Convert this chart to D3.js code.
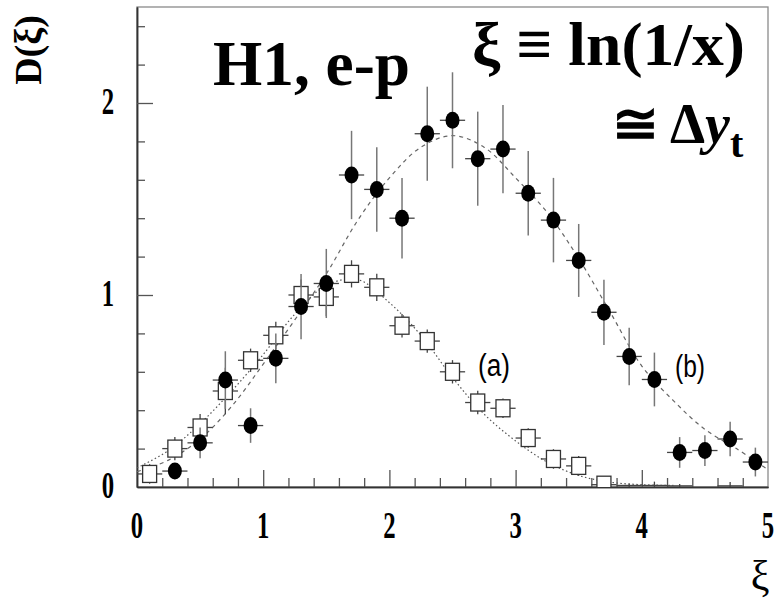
<!DOCTYPE html>
<html>
<head>
<meta charset="utf-8">
<script src="https://cdn.jsdelivr.net/npm/d3@7"></script>
<style>
  body { margin: 0; background: #fff; }
  svg { display: block; }
  .serif { font-family: "Liberation Serif", "Times New Roman", "DejaVu Serif", serif; }
  .sans { font-family: "Liberation Sans", Arial, sans-serif; }
</style>
</head>
<body>
<script>
// bin centres (xi) and values
var xiA = [0.1, 0.3, 0.5, 0.7, 0.9, 1.1, 1.3, 1.5, 1.7, 1.9, 2.1, 2.3, 2.5, 2.7, 2.9, 3.1, 3.3, 3.5, 3.7, 3.9, 4.1, 4.3, 4.7];
var valA = [0.068, 0.20, 0.31, 0.50, 0.66, 0.79, 1.0, 0.99, 1.11, 1.04, 0.84, 0.76, 0.60, 0.44, 0.41, 0.255, 0.146, 0.11, 0.012, 0.008, 0.008, 0.006, 0.006];
var errA = [0.03, 0.04, 0.05, 0.10, 0.04, 0.05, 0.06, 0.08, 0.05, 0.05, 0.04, 0.04, 0.04, 0.04, 0.03, 0.03, 0.03, 0.03, 0.02, 0.01, 0.02, 0.01, 0.02];

var xiB = [0.3, 0.5, 0.7, 0.9, 1.1, 1.3, 1.5, 1.7, 1.9, 2.1, 2.3, 2.5, 2.7, 2.9, 3.1, 3.3, 3.5, 3.7, 3.9, 4.1, 4.3, 4.5, 4.7, 4.9];
var valB = [0.083, 0.23, 0.557, 0.32, 0.67, 0.94, 1.06, 1.625, 1.55, 1.40, 1.84, 1.91, 1.71, 1.76, 1.53, 1.39, 1.18, 0.91, 0.68, 0.56, 0.18, 0.19, 0.25, 0.13];
var errB = [0.03, 0.08, 0.15, 0.09, 0.13, 0.17, 0.18, 0.23, 0.22, 0.21, 0.245, 0.25, 0.245, 0.23, 0.22, 0.22, 0.19, 0.17, 0.15, 0.14, 0.08, 0.08, 0.09, 0.075];

// fitted curves, read point by point
var curveXiA = [0, 0.25, 0.5, 0.75, 1.0, 1.25, 1.5, 1.75, 2.0, 2.25, 2.5, 2.75, 3.0, 3.25, 3.5, 3.75, 4.0, 4.25];
var curveA = [0.10, 0.19, 0.33, 0.50, 0.69, 0.90, 1.05, 1.08, 0.96, 0.79, 0.57, 0.38, 0.24, 0.13, 0.06, 0.025, 0.012, 0.008];
var curveXiB = [0, 0.25, 0.5, 0.75, 1.0, 1.25, 1.5, 1.75, 2.0, 2.25, 2.5, 2.75, 3.0, 3.25, 3.5, 3.75, 4.0, 4.25, 4.5, 4.75, 5.0];
var curveB = [0.08, 0.14, 0.25, 0.42, 0.64, 0.87, 1.11, 1.39, 1.61, 1.77, 1.83, 1.77, 1.61, 1.43, 1.19, 0.91, 0.63, 0.45, 0.30, 0.20, 0.09];

var xTickLabels = [0, 1, 2, 3, 4, 5];
var yTickLabels = [0, 1, 2];

var W = 776, H = 606;
var x = d3.scaleLinear().domain([0, 5]).range([137, 768]);
var y = d3.scaleLinear().domain([0, 2.5]).range([487, 7]);
var binHalf = 0.1;

var svg = d3.select("body").append("svg")
    .attr("width", W)
    .attr("height", H);

svg.append("defs").append("clipPath").attr("id", "plot")
    .append("rect")
    .attr("x", x(0)).attr("y", y(2.5))
    .attr("width", x(5) - x(0)).attr("height", y(0) - y(2.5));

// frame
svg.append("rect")
    .attr("x", x(0)).attr("y", y(2.5))
    .attr("width", x(5) - x(0)).attr("height", y(0) - y(2.5))
    .attr("fill", "none").attr("stroke", "#8a8a8a").attr("stroke-width", 1.3);

// axes with inward ticks
var minorX = d3.range(0, 5.01, 0.2).filter(function(v) { return Math.abs(v - Math.round(v)) > 0.01; });
var minorY = d3.range(0, 2.41, 0.2).filter(function(v) { return Math.abs(v - Math.round(v)) > 0.01; });

function styleAxis(g) {
    g.selectAll("line").attr("stroke", "#555").attr("stroke-width", 1.3);
    g.select(".domain").attr("stroke", "#333").attr("stroke-width", 1.5);
}

svg.append("g").attr("transform", "translate(0," + y(0) + ")")
    .call(d3.axisBottom(x).tickValues(minorX).tickSize(-9).tickSizeOuter(0).tickFormat(""))
    .call(styleAxis);
svg.append("g").attr("transform", "translate(0," + y(0) + ")")
    .call(d3.axisBottom(x).tickValues([1, 2, 3, 4]).tickSize(-17).tickSizeOuter(0).tickFormat(""))
    .call(styleAxis);
svg.append("g").attr("transform", "translate(" + x(0) + ",0)")
    .call(d3.axisLeft(y).tickValues(minorY).tickSize(-8).tickSizeOuter(0).tickFormat(""))
    .call(styleAxis);
svg.append("g").attr("transform", "translate(" + x(0) + ",0)")
    .call(d3.axisLeft(y).tickValues([1, 2]).tickSize(-16).tickSizeOuter(0).tickFormat(""))
    .call(styleAxis);

// tick labels (bold serif, a little condensed like the scan)
svg.selectAll(".xlab").data(xTickLabels).enter().append("text")
    .attr("class", "xlab serif")
    .attr("transform", function(d) { return "translate(" + x(d) + ",538) scale(0.75,1.15)"; })
    .attr("text-anchor", "middle")
    .attr("font-weight", "bold").attr("font-size", 33)
    .text(function(d) { return d; });

svg.selectAll(".ylab").data(yTickLabels).enter().append("text")
    .attr("class", "ylab serif")
    .attr("transform", function(d) { return "translate(114," + (y(d) + 11) + ") scale(0.75,1.15)"; })
    .attr("text-anchor", "end")
    .attr("font-weight", "bold").attr("font-size", 33)
    .text(function(d) { return d; });

// axis titles
svg.append("text")
    .attr("class", "serif")
    .attr("transform", "translate(41,50) rotate(-90)")
    .attr("text-anchor", "middle")
    .attr("font-weight", "bold").attr("font-size", 38)
    .text("D(ξ)");

svg.append("text")
    .attr("class", "serif")
    .attr("x", 760).attr("y", 590)
    .attr("text-anchor", "middle")
    .attr("font-size", 42)
    .text("ξ");

var plot = svg.append("g").attr("clip-path", "url(#plot)");

// fitted curves
var tableA = curveXiA.map(function(v, i) { return [v, curveA[i]]; });
var tableB = curveXiB.map(function(v, i) { return [v, curveB[i]]; });
var line = d3.line()
    .x(function(d) { return x(d[0]); })
    .y(function(d) { return y(d[1]); })
    .curve(d3.curveCatmullRom);

plot.append("path").attr("d", line(tableB))
    .attr("fill", "none").attr("stroke", "#666").attr("stroke-width", 1.2)
    .attr("stroke-dasharray", "4,4");
plot.append("path").attr("d", line(tableA))
    .attr("fill", "none").attr("stroke", "#555").attr("stroke-width", 1.2)
    .attr("stroke-dasharray", "1.5,2.5");

// data (a): open squares
var dataA = xiA.map(function(v, i) { return { xi: v, d: valA[i], e: errA[i] }; });
var gA = plot.selectAll(".ptA").data(dataA).enter().append("g").attr("class", "ptA");
gA.append("line")
    .attr("x1", function(d) { return x(d.xi - binHalf); })
    .attr("x2", function(d) { return x(d.xi + binHalf); })
    .attr("y1", function(d) { return y(d.d); })
    .attr("y2", function(d) { return y(d.d); })
    .attr("stroke", "#444").attr("stroke-width", 1.3);
gA.append("line")
    .attr("x1", function(d) { return x(d.xi); })
    .attr("x2", function(d) { return x(d.xi); })
    .attr("y1", function(d) { return y(d.d + d.e) - (d.d > 0.05 ? 4 : 0); })
    .attr("y2", function(d) { return y(d.d - d.e) + (d.d > 0.05 ? 4 : 0); })
    .attr("stroke", "#444").attr("stroke-width", 1.3);
gA.filter(function(d) { return d.d > 0.05 || d.xi < 3.8; }).append("rect")
    .attr("x", function(d) { return x(d.xi) - 7; })
    .attr("y", function(d) { return y(d.d) - 8.5; })
    .attr("width", 14).attr("height", 17)
    .attr("fill", "#fff").attr("stroke", "#333").attr("stroke-width", 1.3);

// data (b): filled circles
var dataB = xiB.map(function(v, i) { return { xi: v, d: valB[i], e: errB[i] }; });
var gB = plot.selectAll(".ptB").data(dataB).enter().append("g").attr("class", "ptB");
gB.append("line")
    .attr("x1", function(d) { return x(d.xi); })
    .attr("x2", function(d) { return x(d.xi); })
    .attr("y1", function(d) { return y(d.d + d.e); })
    .attr("y2", function(d) { return y(d.d - d.e); })
    .attr("stroke", "#777").attr("stroke-width", 1.5);
gB.append("line")
    .attr("x1", function(d) { return x(d.xi - binHalf); })
    .attr("x2", function(d) { return x(d.xi + binHalf); })
    .attr("y1", function(d) { return y(d.d); })
    .attr("y2", function(d) { return y(d.d); })
    .attr("stroke", "#444").attr("stroke-width", 1.3);
gB.append("ellipse")
    .attr("cx", function(d) { return x(d.xi); })
    .attr("cy", function(d) { return y(d.d); })
    .attr("rx", 7).attr("ry", 8.5)
    .attr("fill", "#000");

// labels inside the frame
svg.append("text")
    .attr("class", "serif")
    .attr("x", 213).attr("y", 85)
    .attr("textLength", 197).attr("lengthAdjust", "spacingAndGlyphs")
    .attr("font-weight", "bold").attr("font-size", 64)
    .text("H1, e-p");

svg.append("text")
    .attr("class", "serif")
    .attr("x", 472).attr("y", 65)
    .attr("textLength", 273).attr("lengthAdjust", "spacingAndGlyphs")
    .attr("font-weight", "bold").attr("font-size", 62)
    .text("ξ ≡ ln(1/x)");

var t2 = svg.append("text")
    .attr("class", "serif")
    .attr("x", 612).attr("y", 143)
    .attr("font-weight", "bold").attr("font-size", 56);
t2.append("tspan").text("≅ Δ");
t2.append("tspan").attr("font-style", "italic").text("y");
t2.append("tspan").attr("dy", 14).attr("font-size", 40).text("t");

svg.append("text")
    .attr("class", "sans")
    .attr("x", 478).attr("y", 376)
    .attr("textLength", 32).attr("lengthAdjust", "spacingAndGlyphs")
    .attr("font-size", 31)
    .text("(a)");
svg.append("text")
    .attr("class", "sans")
    .attr("x", 675).attr("y", 377)
    .attr("textLength", 30).attr("lengthAdjust", "spacingAndGlyphs")
    .attr("font-size", 31)
    .text("(b)");
</script>
</body>
</html>
